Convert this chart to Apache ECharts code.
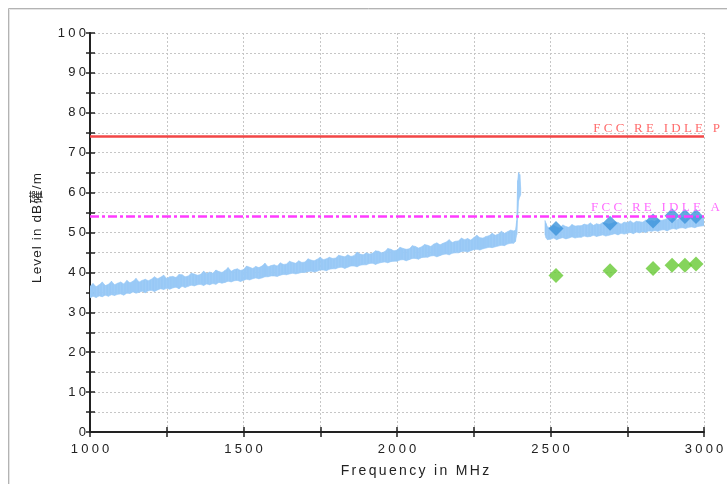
<!DOCTYPE html>
<html><head><meta charset="utf-8">
<script src="https://cdn.jsdelivr.net/npm/echarts@6/dist/echarts.min.js"></script>
<style>html,body{margin:0;padding:0;background:#fff}#c{width:727px;height:484px}</style>
</head><body><div id="c"></div>
<script>
// Spectrum segment 1 (below the 2.4 GHz band) — lower / upper envelope
const freqA = [1000,1010,1020,1030,1040,1050,1060,1070,1080,1090,
  1100,1110,1120,1130,1140,1150,1160,1170,1180,1190,
  1200,1210,1220,1230,1240,1250,1260,1270,1280,1290,
  1300,1310,1320,1330,1340,1350,1360,1370,1380,1390,
  1400,1410,1420,1430,1440,1450,1460,1470,1480,1490,
  1500,1510,1520,1530,1540,1550,1560,1570,1580,1590,
  1600,1610,1620,1630,1640,1650,1660,1670,1680,1690,
  1700,1710,1720,1730,1740,1750,1760,1770,1780,1790,
  1800,1810,1820,1830,1840,1850,1860,1870,1880,1890,
  1900,1910,1920,1930,1940,1950,1960,1970,1980,1990,
  2000,2010,2020,2030,2040,2050,2060,2070,2080,2090,
  2100,2110,2120,2130,2140,2150,2160,2170,2180,2190,
  2200,2210,2220,2230,2240,2250,2260,2270,2280,2290,
  2300,2310,2320,2330,2340,2350,2360,2370,2380,
  2386,2390,2393,2396,2400,2403];
const lowA = [33.6,34.0,33.7,34.1,33.9,34.3,34.0,34.4,34.2,34.5,
  34.6,34.3,34.8,34.7,35.1,34.8,35.0,35.3,34.9,35.4,
  35.5,35.2,35.6,35.9,35.7,36.0,35.8,36.1,36.3,35.9,
  36.5,36.2,36.5,36.8,36.6,36.9,37.0,36.7,37.1,36.9,
  37.2,37.0,37.5,37.3,37.5,37.8,37.6,37.9,38.0,37.7,
  38.0,38.3,38.1,38.4,38.6,38.4,38.6,38.9,38.9,39.1,
  39.1,39.0,39.3,39.5,39.4,39.6,39.8,39.6,39.8,40.0,
  40.0,40.2,40.3,40.1,40.3,40.6,40.6,40.4,40.8,40.9,
  40.9,41.2,41.3,41.0,41.3,41.6,41.6,41.4,41.8,41.9,
  41.9,42.2,42.3,42.0,42.3,42.5,42.6,42.4,42.7,42.8,
  42.8,43.1,43.2,42.9,43.2,43.5,43.5,43.3,43.7,43.8,
  43.8,44.1,44.2,43.9,44.2,44.5,44.6,44.4,44.8,44.9,
  44.9,45.2,45.3,45.1,45.4,45.7,45.8,45.6,45.9,46.1,
  46.3,46.2,46.4,46.6,46.8,46.7,47.1,47.3,47.3,
  47.8,49.5,54.0,58.0,59.0,59.5];
const highA = [36.5,37.2,36.4,36.9,37.6,36.7,37.0,37.8,36.9,37.3,
  37.6,37.1,38.0,37.4,37.8,38.5,37.6,38.0,38.3,37.9,
  38.3,38.9,38.4,38.8,39.3,38.5,38.9,39.0,38.7,39.5,
  39.4,38.9,39.1,39.8,39.6,39.3,39.5,40.3,39.7,40.1,
  39.8,40.6,40.2,40.0,40.5,41.2,40.3,40.7,40.9,40.5,
  40.7,41.6,41.3,41.0,41.5,41.2,41.6,42.3,41.4,41.7,
  41.9,41.6,42.4,42.0,42.1,42.8,42.5,42.3,42.9,42.5,
  42.6,43.4,43.1,42.9,43.3,43.8,43.2,43.4,43.8,43.5,
  43.6,44.3,44.1,43.9,44.4,44.0,44.2,45.1,44.6,44.4,
  44.9,44.6,44.8,45.4,45.3,44.9,45.2,46.0,45.8,45.4,
  45.6,46.3,46.0,45.8,45.9,46.7,46.5,46.1,46.4,47.0,
  46.8,46.5,47.1,47.4,46.9,47.3,47.6,48.2,47.5,47.8,
  47.9,48.6,48.2,48.5,48.1,48.7,49.3,48.7,48.6,49.0,
  49.2,49.8,49.3,49.6,50.3,49.8,50.2,50.6,50.4,
  50.6,53.0,63.0,65.0,64.5,61.0];
// Spectrum segment 2 (above the band)
const freqB = [2482,2486,2490,
  2500,2510,2520,2530,2540,2550,2560,2570,2580,2590,
  2600,2610,2620,2630,2640,2650,2660,2670,2680,2690,
  2700,2710,2720,2730,2740,2750,2760,2770,2780,2790,
  2800,2810,2820,2830,2840,2850,2860,2870,2880,2890,
  2900,2910,2920,2930,2940,2950,2960,2970,2980,2990,3000];
const lowB = [49.5,48.6,48.2,
  48.3,48.6,48.2,48.5,48.7,48.4,48.6,48.9,48.6,48.8,
  48.8,49.1,48.9,49.0,49.3,49.0,49.2,49.4,49.1,49.3,
  49.5,49.7,49.4,49.8,49.6,49.8,50.0,49.7,50.1,49.9,
  50.2,50.0,50.4,50.3,50.5,50.3,50.6,50.7,50.4,50.8,
  51.0,50.8,51.1,51.2,51.0,51.3,51.4,51.2,51.5,51.6,51.7];
const highB = [53.0,52.2,51.4,
  51.2,51.8,51.4,51.1,51.9,51.5,51.3,52.0,51.6,51.7,
  51.7,52.1,51.9,52.4,51.8,52.2,52.0,52.5,52.3,52.1,
  52.3,52.7,52.5,52.1,52.6,52.5,52.9,52.4,52.8,52.7,
  52.6,53.1,52.9,53.0,52.8,53.4,53.0,53.2,53.5,53.1,
  53.6,53.2,53.5,53.8,53.4,53.8,53.6,54.1,53.9,54.0,53.9];
// Final measurement points
const markFreq = [2518, 2694, 2834, 2896, 2938, 2974];
const peakVals = [51.0, 52.3, 52.9, 54.2, 54.0, 54.0];
const avgVals  = [39.2, 40.4, 41.0, 41.8, 41.8, 42.1];
// Limits
const limitPeak = 74, limitAvg = 54;
const limitPeakName = 'FCC RE IDLE P', limitAvgName = 'FCC RE IDLE A';
// Axis text
const xLabelTicks = [1000, 1500, 2000, 2500, 3000];
const yLabelTicks = [0, 10, 20, 30, 40, 50, 60, 70, 80, 90, 100];
const xTitle = 'Frequency in MHz';
const yTitle = 'Level in dB礶/m';

const sp = (s, sep) => String(s).split('').join(sep);
const S4 = '\u2005', S6 = '\u2006', SH = '\u200A';
const BAND = '#99c9f6';
const AX = '#222';
const font = '"Liberation Sans", Arial, "Noto Sans CJK SC", sans-serif';

const chart = echarts.init(document.getElementById('c'), null, {renderer: 'canvas'});
const pair = (xs, ys) => xs.map((x, i) => [x, ys[i]]);
// band segments: [x0, lo0, hi0, x1, lo1, hi1]
const segs = (xs, lo, hi) => xs.slice(0, -1).map((x, i) => [x, lo[i], hi[i], xs[i + 1], lo[i + 1], hi[i + 1]]);

function bandItem(params, api) {
  const a = api.coord([api.value(0), api.value(1)]);
  const b = api.coord([api.value(0), api.value(2)]);
  const c = api.coord([api.value(3), api.value(5)]);
  const d = api.coord([api.value(3), api.value(4)]);
  return {
    type: 'polygon',
    shape: {points: [a, b, c, d]},
    style: {fill: BAND, stroke: BAND, lineWidth: 0.6},
    silent: true
  };
}

const xBase = {type: 'value', min: 1000, max: 3000, interval: 250, position: 'bottom', offset: 0};
const yBase = {type: 'value', min: 0, max: 100, interval: 5, position: 'left', offset: 0};

chart.setOption({
  animation: false,
  backgroundColor: '#fff',
  grid: {left: 90, right: 23, top: 33, bottom: 52, containLabel: false},
  graphic: [
    {type: 'rect', shape: {x: 8.5, y: 8.5, width: 800, height: 600}, style: {fill: 'none', stroke: '#b3b3b3', lineWidth: 1}, silent: true, z: 0},
    {type: 'rect', shape: {x: 9.5, y: 9.5, width: 800, height: 600}, style: {fill: 'none', stroke: '#e4e4e4', lineWidth: 1}, silent: true, z: 0}
  ],
  xAxis: [
    Object.assign({}, xBase, {
      axisLine: {show: true, lineStyle: {color: AX, width: 2}},
      axisTick: {show: true, inside: false, length: 5, lineStyle: {color: AX, width: 1.5}},
      axisLabel: {show: true, showMinLabel: true, showMaxLabel: true, margin: 11, fontSize: 13, color: AX, fontFamily: font,
        formatter: v => xLabelTicks.includes(v) ? sp(v, S4) : ''},
      splitLine: {show: true, lineStyle: {color: '#c6c6c6', type: [2, 2], width: 1}},
      name: sp(xTitle, S6), nameLocation: 'middle', nameGap: 32,
      nameTextStyle: {fontSize: 14, color: AX, fontFamily: font, padding: [0, 0, 0, 36]}
    }),
    Object.assign({}, xBase, {
      axisLine: {show: false},
      axisTick: {show: true, inside: true, length: 5, lineStyle: {color: AX, width: 1.5}},
      axisLabel: {show: false}, splitLine: {show: false}
    })
  ],
  yAxis: [
    Object.assign({}, yBase, {
      axisLine: {show: true, lineStyle: {color: AX, width: 2}},
      axisTick: {show: true, inside: false, length: 4, lineStyle: {color: AX, width: 1.5}},
      axisLabel: {show: true, showMinLabel: true, showMaxLabel: true, margin: 4, fontSize: 13, color: AX, fontFamily: font,
        formatter: v => yLabelTicks.includes(v) ? sp(v, S4) : ''},
      splitLine: {show: true, lineStyle: {color: '#c6c6c6', type: [2, 2], width: 1}},
      name: sp(yTitle, SH), nameLocation: 'middle', nameGap: 46,
      nameTextStyle: {fontSize: 13.5, color: AX, fontFamily: font, padding: [0, 0, 0, 9]}
    }),
    Object.assign({}, yBase, {
      axisLine: {show: false},
      axisTick: {show: true, inside: true, length: 5, lineStyle: {color: AX, width: 1.5}},
      axisLabel: {show: false}, splitLine: {show: false}
    })
  ],
  series: [
    {
      name: limitPeakName, type: 'line', data: [], z: 1, silent: true,
      markLine: {
        silent: true, symbol: ['none', 'none'], animation: false,
        lineStyle: {color: '#f24646', width: 2.5, type: 'solid'},
        label: {show: true, position: 'insideEndTop', distance: 2, offset: [18, 0], formatter: sp(limitPeakName, S4),
          color: '#ff6b6b', fontSize: 13, fontFamily: '"Liberation Serif", "Times New Roman", serif'},
        data: [{yAxis: limitPeak}]
      }
    },
    {
      name: limitAvgName, type: 'line', data: [], z: 1, silent: true,
      markLine: {
        silent: true, symbol: ['none', 'none'], animation: false,
        lineStyle: {color: '#ff3cff', width: 2.5, type: [9, 3, 3, 3]},
        label: {show: true, position: 'insideEndTop', distance: 2, offset: [18, 0], formatter: sp(limitAvgName, S4),
          color: '#ff6cff', fontSize: 13, fontFamily: '"Liberation Serif", "Times New Roman", serif'},
        data: [{yAxis: limitAvg}]
      }
    },
    {type: 'custom', renderItem: bandItem, data: segs(freqA, lowA, highA), z: 2, silent: true, clip: true,
      encode: {x: [0, 3], y: [1, 2, 4, 5]}},
    {type: 'custom', renderItem: bandItem, data: segs(freqB, lowB, highB), z: 2, silent: true, clip: true,
      encode: {x: [0, 3], y: [1, 2, 4, 5]}},
    {name: 'Peak', type: 'scatter', data: pair(markFreq, peakVals), symbol: 'diamond', symbolSize: 15, z: 3,
      itemStyle: {color: '#3c93db'}},
    {name: 'Average', type: 'scatter', data: pair(markFreq, avgVals), symbol: 'diamond', symbolSize: 15, z: 3,
      itemStyle: {color: '#66c933'}}
  ]
});
</script></body></html>
